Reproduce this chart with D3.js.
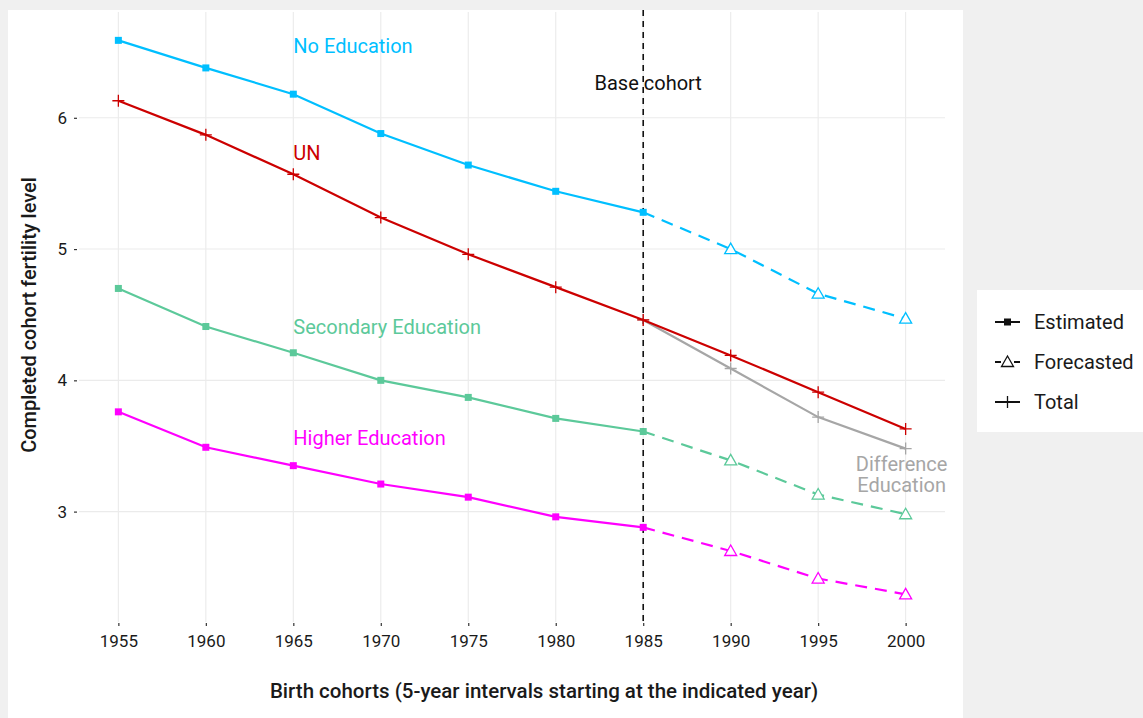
<!DOCTYPE html>
<html>
<head>
<meta charset="utf-8">
<script src="https://cdnjs.cloudflare.com/ajax/libs/d3/7.8.5/d3.min.js"></script>
<style>
  body { margin: 0; background: #f0f0f0; }
  svg { display: block; font-family: Roboto, "Noto Sans", sans-serif; }
</style>
</head>
<body>
<script>
// cohort years
var years = [1955, 1960, 1965, 1970, 1975, 1980, 1985, 1990, 1995, 2000];
var forecastYears = [1985, 1990, 1995, 2000];

// estimated (1955-1985) + forecasted (1985-2000) per education group
var noEduEst = [6.59, 6.38, 6.18, 5.88, 5.64, 5.44, 5.28];
var noEduFc = [5.28, 5.00, 4.66, 4.47];
var secEduEst = [4.70, 4.41, 4.21, 4.00, 3.87, 3.71, 3.61];
var secEduFc = [3.61, 3.39, 3.13, 2.98];
var highEduEst = [3.76, 3.49, 3.35, 3.21, 3.11, 2.96, 2.88];
var highEduFc = [2.88, 2.70, 2.49, 2.37];

// totals
var unTotal = [6.13, 5.87, 5.57, 5.24, 4.96, 4.71, 4.46, 4.19, 3.91, 3.63];
var diffEduTotal = [4.46, 4.09, 3.72, 3.48];

var yTicks = [3, 4, 5, 6];
var legendLabels = ["Estimated", "Forecasted", "Total"];

var W = 1143, H = 718;
var svg = d3.select("body").append("svg").attr("width", W).attr("height", H);

// white plot panel
svg.append("rect").attr("x", 8).attr("y", 10).attr("width", 955).attr("height", 708).attr("fill", "#fff");

var pLeft = 79, pRight = 945, pTop = 12, pBottom = 622;
var x = d3.scaleLinear().domain([1952.75, 2002.25]).range([pLeft, pRight]);
var y = d3.scaleLinear().domain([2.159, 6.806]).range([pBottom, pTop]);

// grid
svg.append("g").selectAll("line").data(years).enter().append("line")
  .attr("x1", function (d) { return x(d); }).attr("x2", function (d) { return x(d); })
  .attr("y1", pTop).attr("y2", pBottom)
  .attr("stroke", "#ebebeb").attr("stroke-width", 1.1);
svg.append("g").selectAll("line").data(yTicks).enter().append("line")
  .attr("y1", function (d) { return y(d); }).attr("y2", function (d) { return y(d); })
  .attr("x1", pLeft).attr("x2", pRight)
  .attr("stroke", "#ebebeb").attr("stroke-width", 1.1);

// axes
var xAxis = svg.append("g").attr("transform", "translate(0," + (pBottom + 1) + ")")
  .call(d3.axisBottom(x).tickValues(years).tickFormat(d3.format("d")).tickSize(3).tickPadding(9));
var yAxis = svg.append("g").attr("transform", "translate(" + (pLeft - 2) + ",0)")
  .call(d3.axisLeft(y).tickValues(yTicks).tickFormat(d3.format("d")).tickSize(3).tickPadding(7));
[xAxis, yAxis].forEach(function (a) {
  a.select(".domain").remove();
  a.selectAll("line").attr("stroke", "#333").attr("stroke-width", 1.2);
  a.selectAll("text").attr("fill", "#1a1a1a").style("font-size", "17px").style("font-family", "Roboto");
});

// axis titles
svg.append("text").attr("x", 544).attr("y", 698).attr("text-anchor", "middle")
  .style("font-size", "20.5px").style("font-weight", 500).attr("fill", "#1a1a1a")
  .text("Birth cohorts (5-year intervals starting at the indicated year)");
svg.append("text").attr("transform", "translate(36,315) rotate(-90)")
  .attr("text-anchor", "middle")
  .style("font-size", "20px").style("font-weight", 500).attr("fill", "#1a1a1a")
  .text("Completed cohort fertility level");

// base cohort line
svg.append("line").attr("x1", x(1985)).attr("x2", x(1985)).attr("y1", pTop - 2).attr("y2", pBottom)
  .attr("stroke", "#111").attr("stroke-width", 1.6).attr("stroke-dasharray", "6,5");
svg.append("text").attr("x", x(1985) + 5).attr("y", 90).attr("text-anchor", "middle")
  .style("font-size", "20px").attr("fill", "#111").text("Base cohort");

var line = d3.line().x(function (d) { return x(d[0]); }).y(function (d) { return y(d[1]); });
function pairs(xs, vs) { return vs.map(function (v, i) { return [xs[i], v]; }); }

var groups = [
  { est: noEduEst, fc: noEduFc, color: "#00bfff" },
  { est: secEduEst, fc: secEduFc, color: "#5cc99a" },
  { est: highEduEst, fc: highEduFc, color: "#ff00ff" }
];

function square(g, px, py, c) {
  g.append("rect").attr("x", px - 3.5).attr("y", py - 3.5).attr("width", 7).attr("height", 7).attr("fill", c);
}
function triangle(g, px, py, c) {
  g.append("path").attr("d", "M" + px + "," + (py - 6) + "L" + (px + 6) + "," + (py + 4.5) + "L" + (px - 6) + "," + (py + 4.5) + "Z")
    .attr("fill", "#fff").attr("stroke", c).attr("stroke-width", 1.3);
}
function plus(g, px, py, c) {
  g.append("path").attr("d", "M" + (px - 6) + "," + py + "H" + (px + 6) + "M" + px + "," + (py - 6) + "V" + (py + 6))
    .attr("stroke", c).attr("stroke-width", 1.3);
}

var marks = svg.append("g");
groups.forEach(function (gr) {
  var est = pairs(years, gr.est), fc = pairs(forecastYears, gr.fc);
  marks.append("path").attr("d", line(fc)).attr("fill", "none").attr("stroke", gr.color)
    .attr("stroke-width", 2.2).attr("stroke-dasharray", "12,8");
  marks.append("path").attr("d", line(est)).attr("fill", "none").attr("stroke", gr.color).attr("stroke-width", 2.2);
  est.forEach(function (d) { square(marks, x(d[0]), y(d[1]), gr.color); });
  fc.slice(1).forEach(function (d) { triangle(marks, x(d[0]), y(d[1]), gr.color); });
});

// totals
var diff = pairs(forecastYears, diffEduTotal);
marks.append("path").attr("d", line(diff)).attr("fill", "none").attr("stroke", "#a6a6a6").attr("stroke-width", 2.2);
diff.forEach(function (d) { plus(marks, x(d[0]), y(d[1]), "#a6a6a6"); });
var un = pairs(years, unTotal);
marks.append("path").attr("d", line(un)).attr("fill", "none").attr("stroke", "#cc0000").attr("stroke-width", 2.2);
un.forEach(function (d) { plus(marks, x(d[0]), y(d[1]), "#cc0000"); });

// direct labels
var labels = [
  { t: "No Education", yv: 6.49, c: "#00bfff" },
  { t: "UN", yv: 5.68, c: "#cc0000" },
  { t: "Secondary Education", yv: 4.355, c: "#5cc99a" },
  { t: "Higher Education", yv: 3.51, c: "#ff00ff" }
];
svg.append("g").selectAll("text").data(labels).enter().append("text")
  .attr("x", x(1965)).attr("y", function (d) { return y(d.yv); })
  .attr("fill", function (d) { return d.c; }).style("font-size", "20px")
  .text(function (d) { return d.t; });
var dl = svg.append("text").attr("x", x(2000) - 4).attr("y", y(3.31)).attr("text-anchor", "middle")
  .attr("fill", "#a6a6a6").style("font-size", "20px");
dl.append("tspan").attr("x", x(2000) - 4).text("Difference");
dl.append("tspan").attr("x", x(2000) - 4).attr("dy", 21).text("Education");

// legend
var lg = svg.append("g");
lg.append("rect").attr("x", 977).attr("y", 290).attr("width", 170).attr("height", 142).attr("fill", "#fff");
legendLabels.forEach(function (lab, i) {
  var ly = 322 + i * 40;
  var ln = lg.append("line").attr("x1", 995).attr("x2", 1020).attr("y1", ly).attr("y2", ly)
    .attr("stroke", "#111").attr("stroke-width", 2);
  if (i === 1) {
    ln.attr("stroke-dasharray", "6,13");
    triangle(lg, 1007.5, ly, "#111");
  } else if (i === 0) {
    square(lg, 1007.5, ly, "#111");
  } else {
    plus(lg, 1007.5, ly, "#111");
  }
  lg.append("text").attr("x", 1034).attr("y", ly + 7).style("font-size", "20px").attr("fill", "#1a1a1a").text(lab);
});
</script>
</body>
</html>
